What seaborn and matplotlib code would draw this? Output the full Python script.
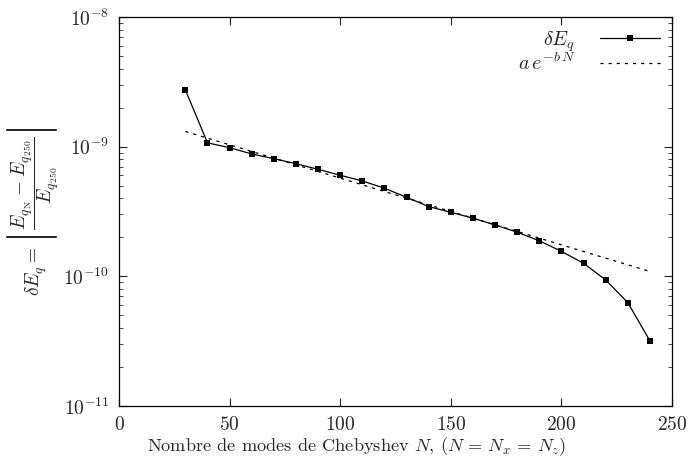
import matplotlib
matplotlib.use("Agg")
import matplotlib.pyplot as plt
import seaborn as sns
import pandas as pd

# Data
N_modes = [30, 40, 50, 60, 70, 80, 90, 100, 110, 120, 130, 140, 150, 160,
           170, 180, 190, 200, 210, 220, 230, 240]
dE_q = [2.74e-9, 1.07e-9, 9.82e-10, 8.79e-10, 8.08e-10, 7.39e-10, 6.69e-10,
        6.02e-10, 5.44e-10, 4.78e-10, 4.07e-10, 3.45e-10, 3.12e-10, 2.81e-10,
        2.49e-10, 2.19e-10, 1.88e-10, 1.56e-10, 1.26e-10, 9.38e-11, 6.27e-11,
        3.18e-11]
fit_N = [30, 240]
fit_values = [1.31e-9, 1.09e-10]
x_ticks = [0, 50, 100, 150, 200, 250]

sns.set_style("ticks")
plt.rcParams.update({
    "font.family": "serif",
    "font.serif": ["cmr10", "DejaVu Serif"],
    "mathtext.fontset": "cm",
    "axes.unicode_minus": False,
    "axes.formatter.use_mathtext": True,
    "xtick.direction": "in",
    "ytick.direction": "in",
    "xtick.top": True,
    "ytick.right": True,
    "axes.linewidth": 0.9,
    "axes.edgecolor": "black",
})

df = pd.DataFrame({"N": N_modes, "dE": dE_q})
df_fit = pd.DataFrame({"N": fit_N, "fit": fit_values})

fig = plt.figure(figsize=(6.98, 4.61), dpi=100)
ax = fig.add_axes([0.1705, 0.1193, 0.7923, 0.8438])

sns.lineplot(data=df, x="N", y="dE", ax=ax, color="black", linewidth=0.9,
             marker="s", markersize=4.5, markeredgewidth=0,
             label=r"$\delta E_q$")
sns.lineplot(data=df_fit, x="N", y="fit", ax=ax, color="black", linewidth=0.9,
             dashes=False, label=r"$a\,e^{-b\,N}$")
ax.lines[1].set_linestyle((0, (2.5, 4)))

ax.set_yscale("log")
ax.set_ylim(1e-11, 1e-8)
ax.set_xlim(0, 250)
ax.set_xticks(x_ticks)
ax.tick_params(axis="both", which="major", length=6, width=0.8, labelsize=14, pad=7)
ax.tick_params(axis="y", which="minor", length=3, width=0.6)
ax.tick_params(axis="x", which="minor", bottom=False, top=False)

ax.set_xlabel(r"Nombre de modes de Chebyshev $N$, $(N\,=\,N_x\,=\,N_z)$", fontsize=13.2)
ax.xaxis.set_label_coords(0.43, -0.075)
ax.set_ylabel(r"$\delta E_q = \left|\dfrac{E_{q_{\,\mathrm{N}}}-E_{q_{\,250}}}{E_{q_{\,250}}}\right|$",
              fontsize=14, labelpad=2)

leg = ax.legend(loc="upper right", frameon=False, markerfirst=False, fontsize=14.5,
                handlelength=3.0, handletextpad=1.2, borderaxespad=0.2, labelspacing=-0.08)

fig.savefig("out.png", dpi=100)
